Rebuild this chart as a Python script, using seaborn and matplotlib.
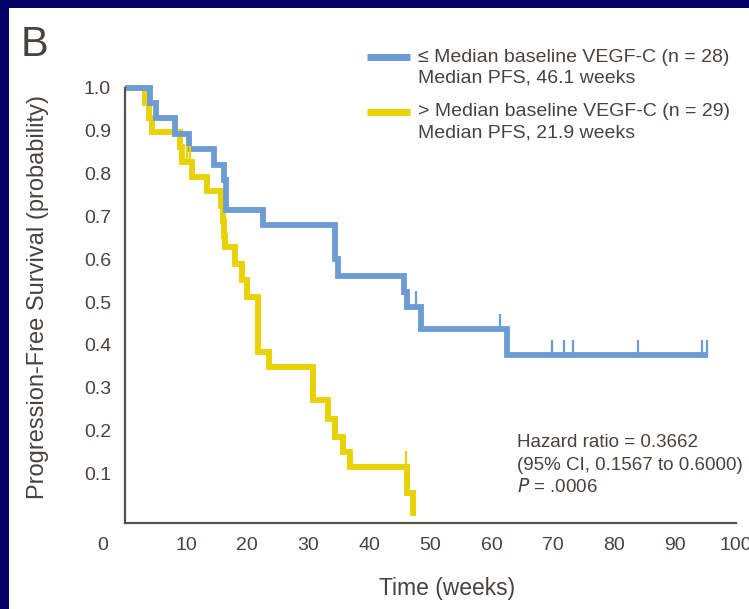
import matplotlib
matplotlib.use("Agg")
import matplotlib.pyplot as plt
import matplotlib.patches as mpatches
import matplotlib.transforms as mtransforms
import seaborn as sns
import pandas as pd

# ---- data ----
low_time = [0, 4.1, 5.1, 8.2, 10.5, 14.6, 16.2, 16.6, 22.6, 34.4, 34.8, 45.6, 46.1, 48.5, 62.5, 95.4]
low_surv = [1.0, 0.964, 0.929, 0.893, 0.857, 0.821, 0.786, 0.714, 0.679, 0.60, 0.56, 0.524, 0.489, 0.437, 0.376, 0.376]
low_cens_time = [47.6, 61.4, 69.9, 71.9, 73.3, 83.9, 94.5, 95.3]
low_cens_surv = [0.489, 0.437, 0.376, 0.376, 0.376, 0.376, 0.376, 0.376]

high_time = [0, 3.3, 4.0, 4.5, 9.0, 9.3, 10.9, 13.4, 15.7, 16.0, 16.2, 16.4, 18.0, 19.1, 20.0, 21.8, 23.5, 30.8, 33.3, 34.4, 35.6, 36.8, 46.2, 47.2]
high_surv = [1.0, 0.966, 0.931, 0.897, 0.862, 0.828, 0.793, 0.759, 0.724, 0.690, 0.655, 0.629, 0.590, 0.551, 0.512, 0.384, 0.349, 0.271, 0.228, 0.185, 0.150, 0.115, 0.054, 0.0]
high_cens_time = [10.2, 10.6, 46.0]
high_cens_surv = [0.828, 0.828, 0.115]

x_ticks = [10, 20, 30, 40, 50, 60, 70, 80, 90, 100]
y_ticks = [0.1, 0.2, 0.3, 0.4, 0.5, 0.6, 0.7, 0.8, 0.9, 1.0]

legend_labels = ["\u2264 Median baseline VEGF-C (n = 28)", "Median PFS, 46.1 weeks",
                 "> Median baseline VEGF-C (n = 29)", "Median PFS, 21.9 weeks"]

BLUE = "#6c9cd4"
YELLOW = "#e9d200"
NAVY = "#000066"
INK = "#4a423d"
SPINE = "#5b504a"

sns.set_theme(style="white")
plt.rcParams["font.family"] = ["Liberation Sans Narrow", "Liberation Sans", "DejaVu Sans"]
plt.rcParams["text.color"] = INK
plt.rcParams["axes.labelcolor"] = INK
plt.rcParams["xtick.color"] = SPINE
plt.rcParams["ytick.color"] = SPINE
plt.rcParams["xtick.labelcolor"] = INK
plt.rcParams["ytick.labelcolor"] = INK

fig = plt.figure(figsize=(7.49, 6.09), dpi=100)
fig.patch.set_facecolor(NAVY)
fig.patches.append(mpatches.Rectangle((9 / 749, 0), 1 - 9 / 749, 1 - 8 / 609,
                                      transform=fig.transFigure, facecolor="white",
                                      edgecolor="none", zorder=-10))

ax = fig.add_axes([125 / 749, (609 - 523) / 609, (736 - 125) / 749, (523 - 88) / 609])
ax.set_zorder(5)
ax.set_facecolor("none")

df_low = pd.DataFrame({"time": low_time, "surv": low_surv})
df_high = pd.DataFrame({"time": high_time, "surv": high_surv})

line_kw = dict(drawstyle="steps-post", estimator=None, sort=False, linewidth=4.2,
               solid_joinstyle="miter", solid_capstyle="butt", clip_on=False)
sns.lineplot(data=df_high, x="time", y="surv", color=YELLOW, ax=ax, **line_kw)
sns.lineplot(data=df_low, x="time", y="surv", color=BLUE, ax=ax, **line_kw)

# censor marks (small upward ticks)
tick_h = 0.036
ax.vlines(high_cens_time, high_cens_surv, [v + tick_h for v in high_cens_surv],
          color=YELLOW, linewidth=1.6)
ax.vlines(low_cens_time, low_cens_surv, [v + tick_h for v in low_cens_surv],
          color=BLUE, linewidth=1.6)

ax.set_xlim(0, 100)
ax.set_ylim(-0.016, 1.0)
ax.set_xticks(x_ticks)
ax.set_yticks(y_ticks)
ax.set_xticklabels([str(v) for v in x_ticks])
ax.set_yticklabels([f"{v:.1f}" for v in y_ticks])
ax.tick_params(axis="both", direction="out", length=5, width=1.3, labelsize=14, pad=5)

for s in ["top", "right"]:
    ax.spines[s].set_visible(False)
for s in ["left", "bottom"]:
    ax.spines[s].set_color(SPINE)
    ax.spines[s].set_linewidth(1.6)

# lone "0" label at origin
trans = mtransforms.blended_transform_factory(ax.transData, ax.transAxes)
ax.annotate("0", xy=(-3.6, 0), xycoords=trans, xytext=(0, -10), textcoords="offset points",
            ha="center", va="top", fontsize=14, color=INK, annotation_clip=False)

ax.set_xlabel("Time (weeks)", fontsize=16.5)
ax.xaxis.set_label_coords(0.527, -0.124)
ax.set_ylabel("Progression-Free Survival (probability)", fontsize=17)
ax.yaxis.set_label_coords(-0.125, 0.52)

# legend drawn by hand
hx0, hx1, tx = 0.396, 0.466, 0.4795
for ycen, col in [(1.071, BLUE), (0.945, YELLOW)]:
    ax.plot([hx0, hx1], [ycen, ycen], transform=ax.transAxes, color=col, linewidth=5,
            solid_capstyle="butt", clip_on=False)
for lab, ycen in zip(legend_labels, [1.071, 1.023, 0.945, 0.897]):
    ax.text(tx, ycen, lab, transform=ax.transAxes, fontsize=14, va="center", ha="left", color=INK)

# statistics annotation
ax.text(0.6416, 0.184, "Hazard ratio = 0.3662", transform=ax.transAxes, fontsize=13.5, va="center", color=INK)
ax.text(0.6416, 0.133, "(95% CI, 0.1567 to 0.6000)", transform=ax.transAxes, fontsize=13.5, va="center", color=INK)
ax.text(0.6416, 0.083, "$\\it{P}$ = .0006", transform=ax.transAxes, fontsize=13.5, va="center", color=INK)

fig.text(21 / 749, 1 - 45 / 609, "B", fontsize=30, va="center", ha="left", color=INK)

fig.savefig("out.png", dpi=100, facecolor=fig.get_facecolor())
